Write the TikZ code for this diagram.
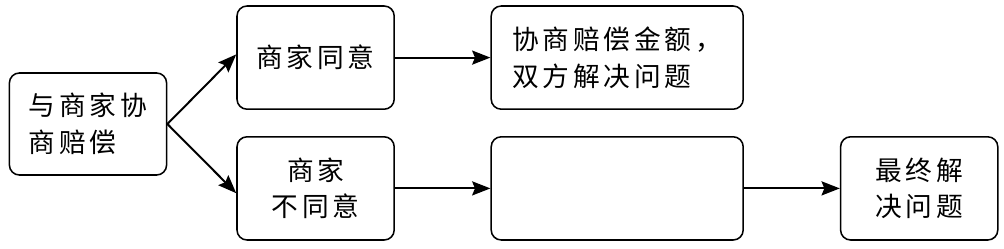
\documentclass[tikz,border=0pt]{standalone}
\usepackage{fontspec}
\newfontfamily\cjk[LetterSpace=14]{Noto Sans CJK SC}
\usetikzlibrary{arrows.meta, positioning}
\tikzstyle{box} = [rectangle, rounded corners=0.25cm,
minimum width=3.93cm,
minimum height=2.58cm,
align=center,
draw=black,
line width=1.1pt,
font=\cjk\fontsize{19}{26}\selectfont]
\tikzstyle{arrow} = [-{Stealth[length=13pt, width=10pt, inset=2pt]}, line width=1.4pt]

\begin{document}
\begin{tikzpicture}

		% canvas, same proportions as the reference
		\useasboundingbox (0,0) rectangle (25.1,6.2);

		\node[box, align=left, minimum height=2.55cm] (start) at (2.2,3.1) {与商家协\\商赔偿};

		\node[box] (agree) at (7.89,4.76) {商家同意};
		\node[box, align=left, minimum width=6.3cm] (settle) at (15.43,4.76) {协商赔偿金额，\\双方解决问题};

		\node[box] (refuse) at (7.89,1.49) {商家\\不同意};
		\node[box, minimum width=6.3cm] (blank) at (15.43,1.49) {};
		\node[box] (final) at (22.98,1.49) {最终解\\决问题};

		\draw[arrow] (start.east) -- ([yshift=0.08cm]agree.west);
		\draw[arrow] (start.east) -- ([yshift=-0.12cm]refuse.west);

		\draw[arrow] (agree) -- (settle);
		\draw[arrow] (refuse) -- (blank);
		\draw[arrow] (blank) -- (final);

	\end{tikzpicture}
\end{document}
